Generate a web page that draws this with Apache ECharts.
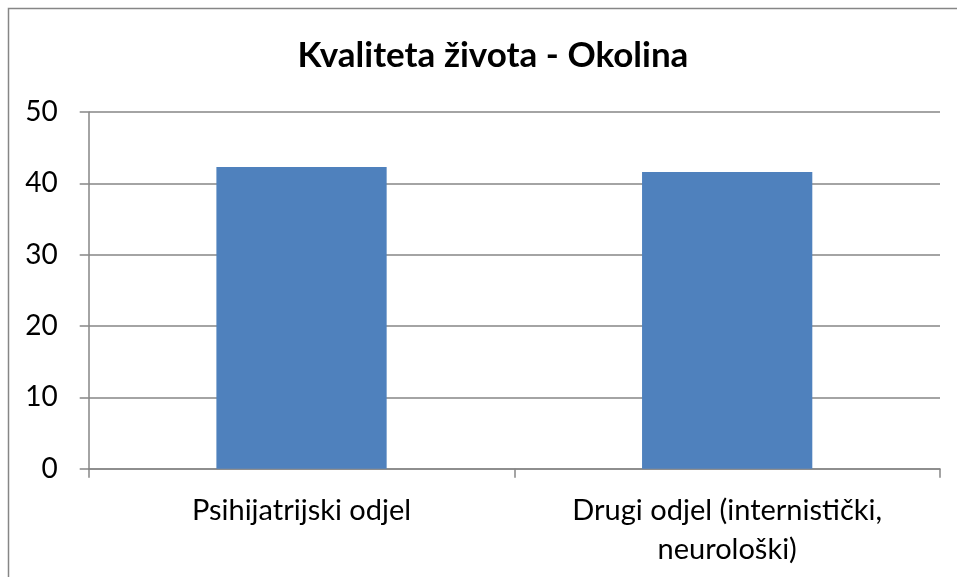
<!DOCTYPE html>
<html>
<head>
<meta charset="utf-8">
<script src="https://cdn.jsdelivr.net/npm/echarts@6/dist/echarts.min.js"></script>
<style>
html,body{margin:0;padding:0;background:#fff;}
#chart{width:957px;height:577px;}
</style>
</head>
<body>
<div id="chart"></div>
<script>
var titleText = 'Kvaliteta života - Okolina';
var categories = ['Psihijatrijski odjel', 'Drugi odjel (internistički,\nneurološki)'];
var values = [42.3, 41.6];
var yTicks = [0, 10, 20, 30, 40, 50];

var FONT = 'Lato';
var chart = echarts.init(document.getElementById('chart'), null, {renderer: 'canvas'});
chart.setOption({
  animation: false,
  backgroundColor: '#ffffff',
  title: {
    text: titleText,
    left: 488, top: 33, textAlign: 'center',
    textStyle: {fontFamily: FONT, fontWeight: 'bold', fontSize: 35, color: '#000'}
  },
  graphic: [{
    type: 'rect', silent: true,
    shape: {x: 8.5, y: 8.5, width: 1000, height: 700},
    style: {fill: 'none', stroke: '#868686', lineWidth: 1.5}
  }],
  grid: {left: 88.7, right: 17, top: 112, bottom: 108.3, containLabel: false},
  xAxis: {
    type: 'category',
    data: categories,
    axisLine: {lineStyle: {color: '#868686', width: 1.5}},
    axisTick: {show: true, length: 9, alignWithLabel: false, lineStyle: {color: '#868686', width: 1.5}},
    axisLabel: {fontFamily: FONT, fontSize: 29, color: '#000', margin: 22, lineHeight: 39, interval: 0}
  },
  yAxis: {
    type: 'value',
    min: yTicks[0], max: yTicks[yTicks.length - 1], interval: 10,
    axisLine: {show: true, lineStyle: {color: '#868686', width: 1.5}},
    axisTick: {show: true, length: 9, lineStyle: {color: '#868686', width: 1.5}},
    axisLabel: {fontFamily: FONT, fontSize: 28, color: '#000', margin: 31},
    splitLine: {show: true, lineStyle: {color: '#868686', width: 1.5}}
  },
  series: [{
    type: 'bar',
    data: values,
    barWidth: '40%',
    itemStyle: {color: '#4F81BD'}
  }]
});
</script>
</body>
</html>
